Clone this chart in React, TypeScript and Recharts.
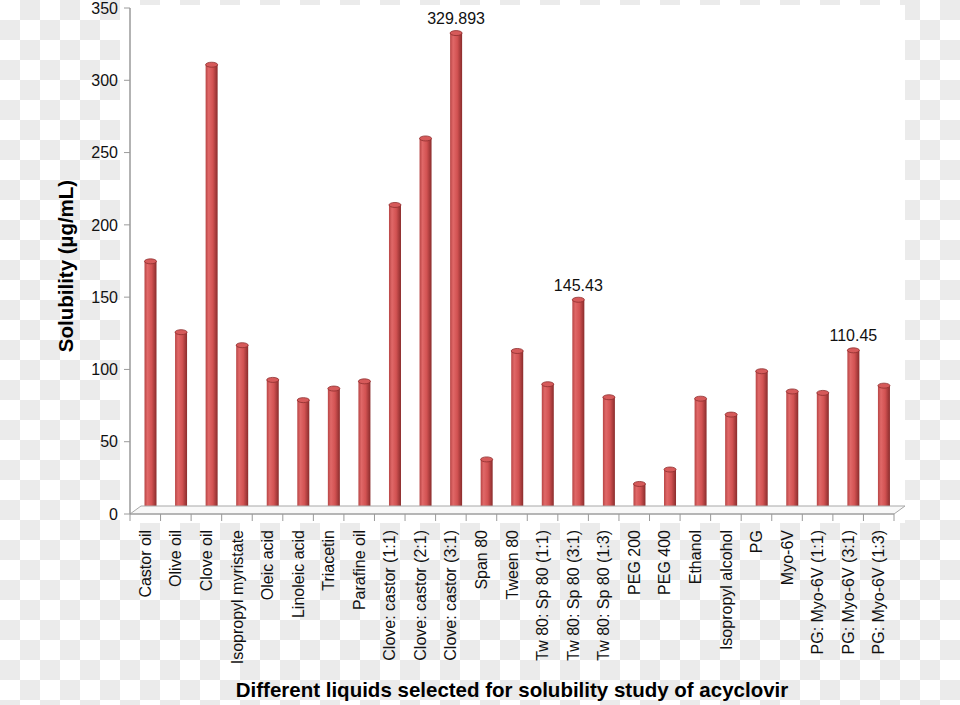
import React from 'react'
import { BarChart, Bar, XAxis, YAxis, LabelList, Label, ReferenceLine } from 'recharts'

const categories = [
  'Castor oil', 'Olive oil', 'Clove oil', 'Isopropyl myristate', 'Oleic acid', 'Linoleic acid',
  'Triacetin', 'Parafine oil', 'Clove: castor (1:1)', 'Clove: castor (2:1)', 'Clove: castor (3:1)',
  'Span 80', 'Tween 80', 'Tw 80: Sp 80 (1:1)', 'Tw 80: Sp 80 (3:1)', 'Tw 80: Sp 80 (1:3)',
  'PEG 200', 'PEG 400', 'Ethanol', 'Isopropyl alcohol', 'PG', 'Myo-6V',
  'PG: Myo-6V (1:1)', 'PG: Myo-6V (3:1)', 'PG: Myo-6V (1:3)',
]

const solubility = [
  172, 123, 308, 114, 90, 76, 84, 89, 211, 257, 329.893,
  35, 110, 87, 145.43, 78, 18, 28, 77, 66, 96, 82, 81, 110.45, 86,
]

// only three bars carry a printed value
const valueLabels = [
  '', '', '', '', '', '', '', '', '', '', '329.893',
  '', '', '', '145.43', '', '', '', '', '', '', '', '', '110.45', '',
]

const yTicks = [0, 50, 100, 150, 200, 250, 300, 350]

const data = categories.map((name, i) => ({ name, value: solubility[i], label: valueLabels[i] }))

const W = 960
const H = 705
const Y_AXIS_W = 130
const RIGHT = 66
const BAND = (W - Y_AXIS_W - RIGHT) / categories.length
// fake 3d depth
const DX = 5.5
const DY = -4
const FONT = '"Liberation Sans", Arial, sans-serif'
const AXIS_COLOR = '#9a9a9a'

function Cylinder(props: any) {
  const { x, y, width, height } = props
  if (!height || height <= 0) return null
  const bx = x + DX
  const by = y + DY
  const rx = width / 2
  const ry = 2.5
  return (
    <g>
      <rect x={bx} y={by} width={width} height={height} fill="url(#cyl)" />
      <ellipse cx={bx + rx} cy={by + height} rx={rx} ry={ry} fill="url(#cyl)" />
      <ellipse cx={bx + rx} cy={by} rx={rx} ry={ry} fill="#d65a5a" stroke="#8e2f2f" strokeWidth={0.8} />
    </g>
  )
}

function Floor(props: any) {
  const { x1, y1, x2 } = props
  const depth = DX * 2
  const rise = DY * 2
  const pts = `${x1},${y1} ${x1 + depth},${y1 + rise} ${x2 + depth},${y1 + rise} ${x2},${y1}`
  return <polygon points={pts} fill="#f8f8f8" stroke="#a8a8a8" strokeWidth={1} />
}

function CategoryTick(props: any) {
  const { x, y, payload, index } = props
  const tx = y + 16
  return (
    <g>
      <line x1={x - BAND / 2} y1={y} x2={x - BAND / 2} y2={y + 7} stroke={AXIS_COLOR} />
      {index === categories.length - 1 && (
        <line x1={x + BAND / 2} y1={y} x2={x + BAND / 2} y2={y + 7} stroke={AXIS_COLOR} />
      )}
      <text
        x={x}
        y={tx}
        dy="0.35em"
        textAnchor="end"
        transform={`rotate(-90 ${x} ${tx})`}
        fontSize={16}
        fontFamily={FONT}
        fill="#111"
      >
        {payload.value}
      </text>
    </g>
  )
}

function ValueLabel(props: any) {
  const { x, y, width, value } = props
  if (!value) return null
  return (
    <text x={x + width / 2 + DX} y={y + DY - 9} textAnchor="middle" fontSize={16} fontFamily={FONT} fill="#111">
      {value}
    </text>
  )
}

function YTitle(props: any) {
  const { viewBox } = props
  const cx = viewBox.x + viewBox.width / 2 + 1
  const cy = viewBox.y + viewBox.height / 2 + 5
  return (
    <text
      x={cx}
      y={cy}
      dy="0.35em"
      textAnchor="middle"
      transform={`rotate(-90 ${cx} ${cy})`}
      fontSize={20.5}
      fontWeight={700}
      fontFamily={FONT}
      fill="#000"
    >
      Solubility (µg/mL)
    </text>
  )
}

export default function App() {
  return (
    <div
      style={{
        position: 'absolute',
        left: 0,
        top: 0,
        width: W,
        height: H,
        backgroundColor: '#fff',
        backgroundImage: 'conic-gradient(#ebebeb 0 25%, #fff 0 50%, #ebebeb 0 75%, #fff 0)',
        backgroundSize: '40px 40px',
      }}
    >
      <div style={{ position: 'absolute', left: 120, top: 5, width: 785, height: 518, background: '#fff' }} />
      <div style={{ position: 'absolute', left: 0, top: 0 }}>
        <BarChart width={W} height={H} data={data} margin={{ top: 8, right: RIGHT, left: 0, bottom: 0 }}>
          <defs>
            <linearGradient id="cyl" x1="0" y1="0" x2="1" y2="0">
              <stop offset="0%" stopColor="#b84545" />
              <stop offset="25%" stopColor="#e06868" />
              <stop offset="60%" stopColor="#d25252" />
              <stop offset="100%" stopColor="#8a2c2c" />
            </linearGradient>
          </defs>
          <ReferenceLine y={0} shape={Floor} />
          <XAxis
            dataKey="name"
            interval={0}
            height={191}
            tickSize={0}
            tickMargin={0}
            tick={CategoryTick}
            axisLine={{ stroke: AXIS_COLOR }}
          >
            <Label
              value="Different liquids selected for solubility study of acyclovir"
              position="insideBottom"
              offset={8}
              style={{ fontSize: 20.5, fontWeight: 700, fontFamily: FONT, fill: '#000' }}
            />
          </XAxis>
          <YAxis
            width={Y_AXIS_W}
            domain={[0, 350]}
            ticks={yTicks}
            interval={0}
            tickMargin={6}
            tick={{ fontSize: 16, fontFamily: FONT, fill: '#111' }}
            axisLine={{ stroke: AXIS_COLOR, strokeWidth: 1.5 }}
            tickLine={{ stroke: AXIS_COLOR }}
          >
            <Label content={YTitle} />
          </YAxis>
          <Bar dataKey="value" barSize={12} shape={Cylinder} isAnimationActive={false}>
            <LabelList dataKey="label" content={ValueLabel} />
          </Bar>
        </BarChart>
      </div>
    </div>
  )
}
